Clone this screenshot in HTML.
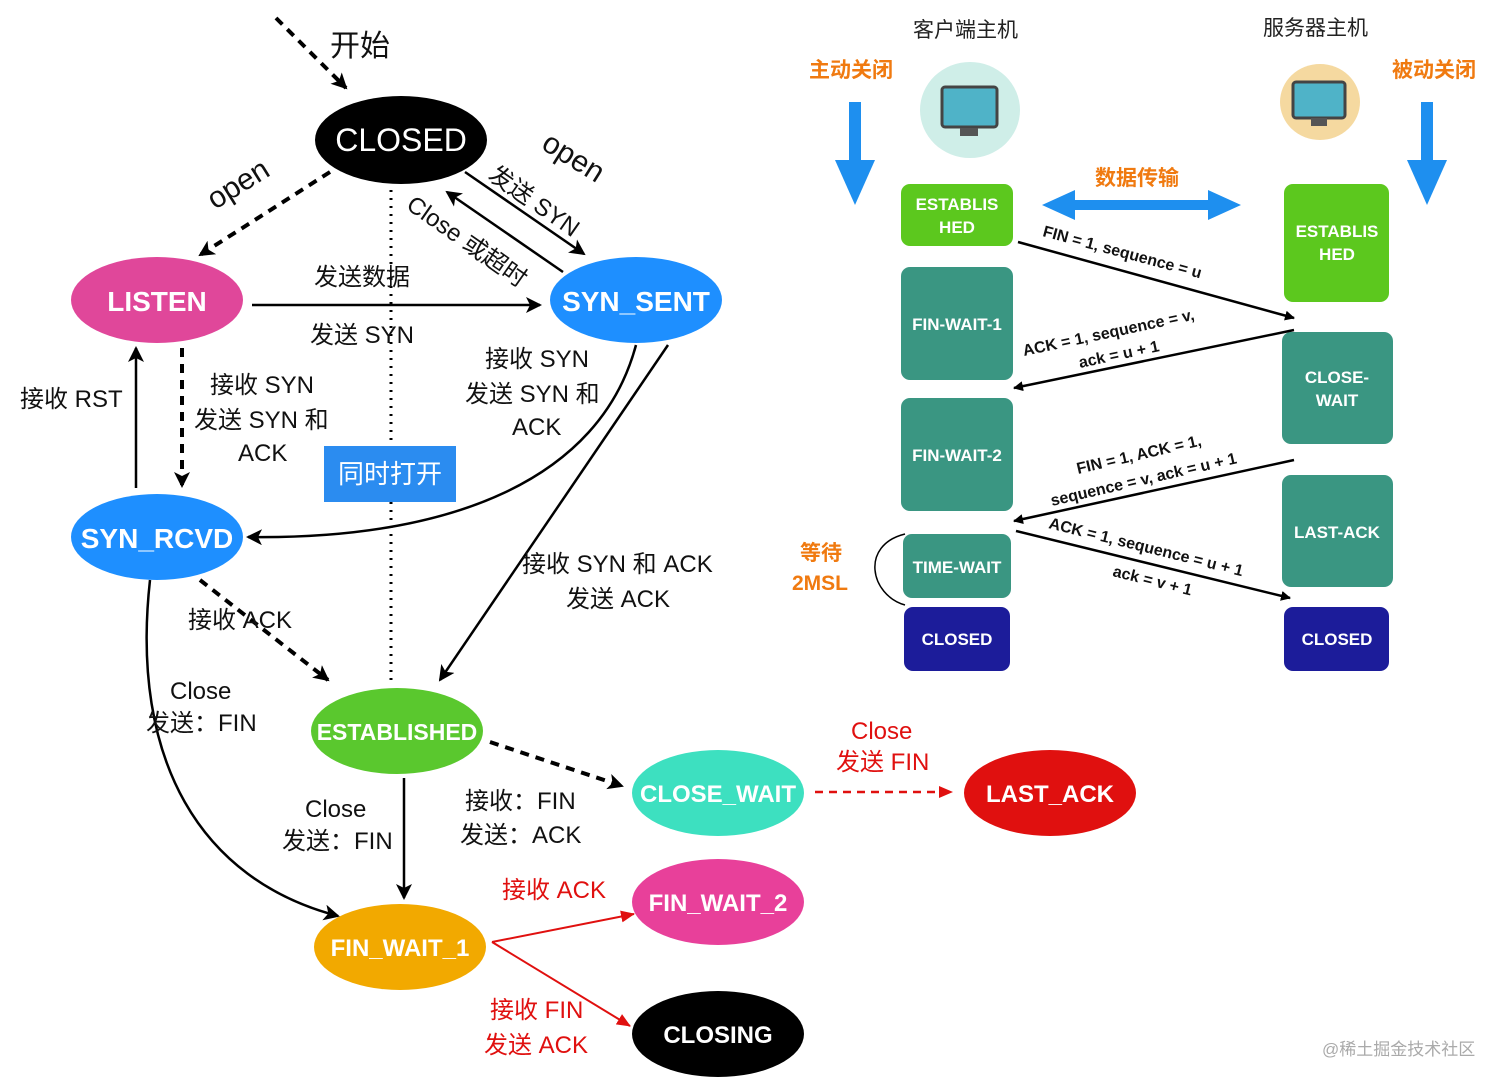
<!DOCTYPE html>
<html><head><meta charset="utf-8"><style>
html,body{margin:0;padding:0;background:#fff;}
svg{display:block;font-family:"Liberation Sans","Noto Sans CJK SC",sans-serif;}
</style></head><body>
<svg width="1512" height="1087" viewBox="0 0 1512 1087" xmlns="http://www.w3.org/2000/svg">
<defs>
<marker id="a" markerWidth="10" markerHeight="10" refX="9" refY="5" orient="auto" markerUnits="userSpaceOnUse"><path d="M0,0 L10,5 L0,10 z" fill="#000"/></marker>
<marker id="ab" markerWidth="16" markerHeight="16" refX="14" refY="8" orient="auto" markerUnits="userSpaceOnUse"><path d="M0,0 L16,8 L0,16 L4,8 z" fill="#000"/></marker>
<marker id="ar" markerWidth="14" markerHeight="14" refX="13" refY="7" orient="auto" markerUnits="userSpaceOnUse"><path d="M0,1 L14,7 L0,13 z" fill="#e0100f"/></marker>
</defs>
<g font-size="24" fill="#111">
<!-- start arrow -->
<line x1="276" y1="18" x2="346" y2="88" stroke="#000" stroke-width="4" stroke-dasharray="9,7" marker-end="url(#ab)"/>
<text x="330" y="56" font-size="30">开始</text>
<!-- CLOSED dotted vertical -->
<line x1="391" y1="190" x2="391" y2="685" stroke="#000" stroke-width="3" stroke-dasharray="2,6"/>
<!-- open to LISTEN -->
<line x1="330" y1="172" x2="200" y2="255" stroke="#000" stroke-width="4" stroke-dasharray="9,7" marker-end="url(#ab)"/>
<text x="0" y="0" font-size="30" transform="translate(215,210) rotate(-32)">open</text>
<!-- CLOSED to SYN_SENT -->
<line x1="465" y1="172" x2="584" y2="254" stroke="#000" stroke-width="2.5" marker-end="url(#ab)"/>
<line x1="563" y1="272" x2="447" y2="192" stroke="#000" stroke-width="2.5" marker-end="url(#ab)"/>
<text font-size="30" transform="translate(540,148) rotate(32)">open</text>
<text font-size="24" transform="translate(487,178) rotate(35)">发送 SYN</text>
<text font-size="24" transform="translate(405,208) rotate(35)">Close 或超时</text>
<!-- LISTEN -> SYN_SENT -->
<line x1="252" y1="305" x2="540" y2="305" stroke="#000" stroke-width="2.5" marker-end="url(#ab)"/>
<text x="314" y="285">发送数据</text>
<text x="310" y="343">发送 SYN</text>
<!-- SYN_RCVD -> LISTEN -->
<line x1="136" y1="488" x2="136" y2="348" stroke="#000" stroke-width="2.5" marker-end="url(#ab)"/>
<text x="20" y="407">接收 RST</text>
<!-- LISTEN -> SYN_RCVD dashed -->
<line x1="182" y1="348" x2="182" y2="486" stroke="#000" stroke-width="4" stroke-dasharray="9,7" marker-end="url(#ab)"/>
<text x="210" y="393">接收 SYN</text>
<text x="194" y="428">发送 SYN 和</text>
<text x="238" y="461">ACK</text>
<rect x="324" y="446" width="132" height="56" fill="#2b8cf0"/>
<text x="390" y="483" text-anchor="middle" fill="#fff" font-size="26">同时打开</text>
<!-- SYN_SENT -> SYN_RCVD curve -->
<path d="M636,345 C600,480 450,540 248,537" fill="none" stroke="#000" stroke-width="2.5" marker-end="url(#ab)"/>
<text x="485" y="367">接收 SYN</text>
<text x="465" y="402">发送 SYN 和</text>
<text x="512" y="435">ACK</text>
<!-- SYN_SENT -> ESTABLISHED -->
<line x1="668" y1="345" x2="440" y2="680" stroke="#000" stroke-width="2.5" marker-end="url(#ab)"/>
<text x="522" y="572">接收 SYN 和 ACK</text>
<text x="566" y="607">发送 ACK</text>
<!-- SYN_RCVD -> ESTABLISHED dashed -->
<line x1="200" y1="580" x2="328" y2="680" stroke="#000" stroke-width="4" stroke-dasharray="9,7" marker-end="url(#ab)"/>
<text x="188" y="628">接收 ACK</text>
<!-- SYN_RCVD -> FIN_WAIT_1 curve -->
<path d="M150,580 C130,760 200,880 338,916" fill="none" stroke="#000" stroke-width="2.5" marker-end="url(#ab)"/>
<text x="170" y="699">Close</text>
<text x="146" y="731">发送：FIN</text>
<!-- ESTABLISHED -> FIN_WAIT_1 -->
<line x1="404" y1="778" x2="404" y2="898" stroke="#000" stroke-width="2.5" marker-end="url(#ab)"/>
<text x="305" y="817">Close</text>
<text x="282" y="849">发送：FIN</text>
<!-- ESTABLISHED -> CLOSE_WAIT -->
<line x1="490" y1="742" x2="622" y2="786" stroke="#000" stroke-width="4" stroke-dasharray="9,7" marker-end="url(#ab)"/>
<text x="465" y="809">接收：FIN</text>
<text x="460" y="843">发送：ACK</text>
<!-- CLOSE_WAIT -> LAST_ACK -->
<line x1="815" y1="792" x2="952" y2="792" stroke="#e0100f" stroke-width="2.5" stroke-dasharray="8,6" marker-end="url(#ar)"/>
<text x="851" y="739" fill="#e0100f">Close</text>
<text x="836" y="770" fill="#e0100f">发送 FIN</text>
<!-- FIN_WAIT_1 -> FIN_WAIT_2 / CLOSING -->
<line x1="492" y1="942" x2="634" y2="914" stroke="#e0100f" stroke-width="2" marker-end="url(#ar)"/>
<line x1="492" y1="942" x2="630" y2="1026" stroke="#e0100f" stroke-width="2" marker-end="url(#ar)"/>
<text x="502" y="898" fill="#e0100f">接收 ACK</text>
<text x="490" y="1018" fill="#e0100f">接收 FIN</text>
<text x="484" y="1053" fill="#e0100f">发送 ACK</text>
</g>
<!-- ellipses -->
<g font-size="28" font-weight="bold" text-anchor="middle" fill="#fff">
<ellipse cx="401" cy="140" rx="86" ry="44" fill="#000"/><text x="401" y="151" font-weight="normal" font-size="32">CLOSED</text>
<ellipse cx="157" cy="300" rx="86" ry="43" fill="#e0479a"/><text x="157" y="311">LISTEN</text>
<ellipse cx="636" cy="300" rx="86" ry="43" fill="#1e8fff"/><text x="636" y="311">SYN_SENT</text>
<ellipse cx="157" cy="537" rx="86" ry="43" fill="#1e8fff"/><text x="157" y="548">SYN_RCVD</text>
<ellipse cx="397" cy="731" rx="86" ry="43" fill="#5ac82e"/><text x="397" y="740" font-size="23">ESTABLISHED</text>
<ellipse cx="718" cy="793" rx="86" ry="43" fill="#3de0c0"/><text x="718" y="802" font-size="24">CLOSE_WAIT</text>
<ellipse cx="1050" cy="793" rx="86" ry="43" fill="#e0100f"/><text x="1050" y="802" font-size="24">LAST_ACK</text>
<ellipse cx="400" cy="947" rx="86" ry="43" fill="#f2a900"/><text x="400" y="956" font-size="24">FIN_WAIT_1</text>
<ellipse cx="718" cy="902" rx="86" ry="43" fill="#e8409a"/><text x="718" y="911" font-size="24">FIN_WAIT_2</text>
<ellipse cx="718" cy="1034" rx="86" ry="43" fill="#000"/><text x="718" y="1043" font-size="24">CLOSING</text>
</g>
<!-- right diagram -->
<g font-size="21" font-weight="bold">
<text x="913" y="37" fill="#222" font-weight="normal">客户端主机</text>
<text x="1263" y="35" fill="#222" font-weight="normal">服务器主机</text>
<text x="809" y="77" fill="#f07a10">主动关闭</text>
<text x="1392" y="77" fill="#f07a10">被动关闭</text>
<text x="1095" y="185" fill="#f07a10">数据传输</text>
<text x="800" y="560" fill="#f07a10">等待</text>
<text x="792" y="590" fill="#f07a10">2MSL</text>
</g>
<!-- icons -->
<ellipse cx="970" cy="110" rx="50" ry="48" fill="#cfeee8"/>
<rect x="942" y="87" width="55" height="40" rx="3" fill="#4fb3c8" stroke="#444" stroke-width="3"/>
<rect x="960" y="128" width="18" height="8" fill="#555"/>
<ellipse cx="1320" cy="102" rx="40" ry="38" fill="#f5d9a0"/>
<rect x="1293" y="82" width="52" height="36" rx="3" fill="#4fb3c8" stroke="#444" stroke-width="3"/>
<rect x="1311" y="118" width="16" height="8" fill="#555"/>
<!-- blue arrows -->
<rect x="849" y="102" width="12" height="60" fill="#1e8fef"/><path d="M835,160 L875,160 L855,205 z" fill="#1e8fef"/>
<rect x="1421" y="102" width="12" height="60" fill="#1e8fef"/><path d="M1407,160 L1447,160 L1427,205 z" fill="#1e8fef"/>
<path d="M1042,205 L1075,190 L1075,200 L1208,200 L1208,190 L1241,205 L1208,220 L1208,210 L1075,210 L1075,220 z" fill="#1e8fef"/>
<!-- boxes -->
<g font-size="17" font-weight="bold" fill="#fff" text-anchor="middle">
<rect x="901" y="184" width="112" height="62" rx="9" fill="#5cc81e"/><text x="957" y="210">ESTABLIS</text><text x="957" y="233">HED</text>
<rect x="901" y="267" width="112" height="113" rx="9" fill="#3a9682"/><text x="957" y="330">FIN-WAIT-1</text>
<rect x="901" y="398" width="112" height="113" rx="9" fill="#3a9682"/><text x="957" y="461">FIN-WAIT-2</text>
<rect x="903" y="534" width="108" height="64" rx="9" fill="#3a9682"/><text x="957" y="573">TIME-WAIT</text>
<rect x="904" y="607" width="106" height="64" rx="9" fill="#1c1c9a"/><text x="957" y="645">CLOSED</text>
<rect x="1284" y="184" width="105" height="118" rx="9" fill="#5cc81e"/><text x="1337" y="237">ESTABLIS</text><text x="1337" y="260">HED</text>
<rect x="1282" y="332" width="111" height="112" rx="9" fill="#3a9682"/><text x="1337" y="383">CLOSE-</text><text x="1337" y="406">WAIT</text>
<rect x="1282" y="475" width="111" height="112" rx="9" fill="#3a9682"/><text x="1337" y="538">LAST-ACK</text>
<rect x="1284" y="607" width="105" height="64" rx="9" fill="#1c1c9a"/><text x="1337" y="645">CLOSED</text>
</g>
<path d="M905,534 C860,545 870,595 905,605" fill="none" stroke="#000" stroke-width="1.5"/>
<g stroke="#000" stroke-width="2.5">
<line x1="1018" y1="242" x2="1294" y2="318" marker-end="url(#a)"/>
<line x1="1294" y1="330" x2="1014" y2="388" marker-end="url(#a)"/>
<line x1="1294" y1="460" x2="1014" y2="521" marker-end="url(#a)"/>
<line x1="1016" y1="531" x2="1290" y2="598" marker-end="url(#a)"/>
</g>
<g font-size="16" font-weight="bold" fill="#111">
<text transform="translate(1042,236) rotate(15)">FIN = 1, sequence = u</text>
<text transform="translate(1024,356) rotate(-12)">ACK = 1, sequence = v,</text>
<text transform="translate(1080,368) rotate(-12)">ack = u + 1</text>
<text transform="translate(1078,474) rotate(-13)">FIN = 1,  ACK = 1,</text>
<text transform="translate(1052,506) rotate(-13)">sequence = v, ack = u + 1</text>
<text transform="translate(1048,528) rotate(14)">ACK = 1, sequence = u + 1</text>
<text transform="translate(1112,576) rotate(14)">ack = v + 1</text>
</g>
<text x="1322" y="1055" font-size="17" fill="#aaa">@稀土掘金技术社区</text>
</svg>
</body></html>
